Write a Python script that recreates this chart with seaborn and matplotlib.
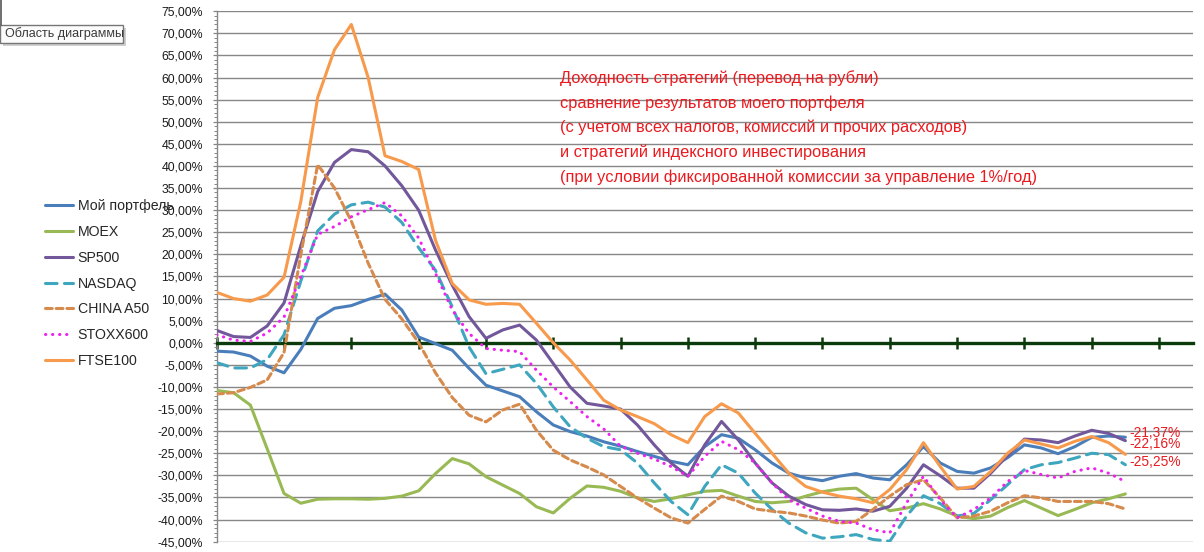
import matplotlib
matplotlib.use('Agg')
import matplotlib.pyplot as plt
from matplotlib.lines import Line2D
from matplotlib.patches import Rectangle
from matplotlib.ticker import FuncFormatter, MultipleLocator
import seaborn as sns

sns.set_style('white')
plt.rcParams['font.family'] = ['Liberation Sans', 'DejaVu Sans']

# readings taken every quarter of a tick interval (4 readings per tick)
periods = list(range(55))

my_portfolio = [-1.9, -2.1, -3.0, -5.3, -6.8, -1.5, 5.5, 7.8, 8.4, 9.8, 11.0,
                7.4, 1.3, -0.2, -1.7, -5.8, -9.6, -10.9, -12.2, -15.6, -18.6,
                -20.1, -21.1, -22.4, -23.4, -24.6, -25.7, -26.8, -27.6, -23.5,
                -20.8, -21.6, -24.2, -27.2, -29.5, -30.6, -31.2, -30.2, -29.6,
                -30.6, -31.0, -27.6, -23.5, -27.2, -29.1, -29.5, -28.3, -26.0,
                -23.1, -23.8, -25.1, -23.5, -21.4, -21.1, -21.37]
moex = [-10.8, -11.3, -14.1, -24.0, -34.1, -36.3, -35.4, -35.3, -35.3, -35.4,
        -35.2, -34.7, -33.5, -29.6, -26.2, -27.4, -30.3, -32.2, -34.1, -37.1,
        -38.5, -35.2, -32.4, -32.7, -33.6, -35.1, -35.9, -35.3, -34.4, -33.6,
        -33.4, -34.7, -35.9, -36.2, -35.9, -34.7, -33.7, -33.1, -32.9, -35.5,
        -38.0, -37.4, -36.4, -37.6, -39.2, -39.8, -39.2, -37.3, -35.7, -37.4,
        -39.1, -37.7, -36.2, -35.3, -34.2]
sp500 = [2.8, 1.4, 1.2, 3.8, 9.0, 22.0, 34.2, 40.8, 43.7, 43.2, 40.0, 35.5,
         30.0, 21.0, 13.0, 5.9, 1.0, 2.9, 4.0, 0.6, -4.7, -10.0, -13.7, -14.3,
         -15.0, -18.6, -23.1, -27.2, -30.2, -23.1, -17.8, -22.0, -27.2, -31.7,
         -34.7, -36.6, -37.8, -37.9, -37.6, -38.1, -37.0, -32.9, -27.6, -30.1,
         -32.9, -32.9, -29.5, -25.5, -21.8, -22.0, -22.6, -21.1, -19.8, -20.5,
         -22.16]
nasdaq = [-4.5, -5.7, -5.7, -3.8, 1.8, 14.0, 25.3, 29.1, 31.2, 31.8, 30.7,
          27.2, 21.5, 16.4, 8.1, -1.0, -7.0, -6.0, -5.0, -9.2, -14.5, -19.0,
          -21.6, -23.5, -24.2, -27.2, -31.7, -35.9, -38.9, -32.5, -27.6, -29.5,
          -34.0, -37.7, -40.8, -43.0, -44.2, -43.9, -43.4, -44.5, -44.9, -39.2,
          -34.6, -36.4, -39.2, -38.6, -35.5, -32.1, -28.7, -27.6, -27.1, -26.1,
          -25.0, -25.3, -27.6]
china_a50 = [-11.6, -11.3, -10.1, -8.4, -2.2, 20.0, 40.3, 35.0, 27.5, 18.0,
             9.8, 5.4, 0.0, -6.8, -12.4, -16.4, -17.9, -15.2, -13.9, -19.8,
             -24.3, -26.5, -28.1, -29.9, -32.5, -35.1, -37.4, -39.6, -40.8,
             -37.7, -34.7, -35.9, -37.6, -38.1, -38.5, -39.2, -40.1, -40.8,
             -40.4, -37.7, -34.7, -32.1, -31.0, -35.1, -39.6, -39.2, -38.1,
             -36.2, -34.6, -35.1, -35.9, -35.9, -35.9, -36.4, -37.6]
stoxx600 = [1.8, 0.6, 0.3, 2.2, 5.8, 15.0, 24.5, 26.3, 28.5, 30.1, 31.7, 28.7,
            23.7, 15.7, 7.4, 2.1, -1.3, -1.7, -2.0, -6.2, -10.0, -13.3, -16.7,
            -19.5, -23.4, -25.0, -26.3, -28.0, -30.2, -25.7, -22.3, -24.2,
            -27.2, -31.7, -35.5, -37.4, -39.2, -40.4, -40.8, -42.3, -43.0,
            -36.2, -30.2, -35.5, -39.6, -37.7, -35.1, -31.4, -28.9, -29.8,
            -30.6, -29.1, -28.3, -29.5, -31.4]
ftse100 = [11.4, 10.0, 9.4, 10.8, 14.8, 32.0, 55.5, 66.3, 72.0, 60.0, 42.3,
           41.0, 39.2, 23.2, 13.4, 9.7, 8.7, 8.9, 8.7, 4.4, 0.0, -3.9, -8.4,
           -13.0, -15.2, -16.7, -18.3, -20.8, -22.6, -16.7, -13.8, -15.9,
           -20.5, -25.0, -29.5, -32.5, -33.8, -34.7, -35.3, -36.2, -33.2,
           -28.7, -22.6, -28.0, -33.1, -32.5, -29.1, -25.0, -22.0, -22.9,
           -23.8, -22.3, -21.2, -22.6, -25.25]

series_names = ['Мой портфель', 'MOEX', 'SP500', 'NASDAQ', 'CHINA A50',
                'STOXX600', 'FTSE100']
series_values = [my_portfolio, moex, sp500, nasdaq, china_a50, stoxx600,
                 ftse100]

title_text = ('Доходность стратегий (перевод на рубли)\n'
              'сравнение результатов моего портфеля\n'
              '(с учетом всех налогов, комиссий и прочих расходов)\n'
              'и стратегий индексного инвестирования\n'
              '(при условии фиксированной комиссии за управление 1%/год)')

line_styles = {
    'Мой портфель': ('#4a7ebb', '-'),
    'MOEX': ('#98b954', '-'),
    'SP500': ('#72589b', '-'),
    'NASDAQ': ('#3ea6be', (0, (3.8, 2.4))),
    'CHINA A50': ('#d68a4c', (0, (2.2, 1.3))),
    'STOXX600': ('#ee22ee', (0, (0.1, 2.2))),
    'FTSE100': ('#f79a4c', '-'),
}
# pixel offsets of the end-of-line value labels
end_label_offsets = {'Мой портфель': 4.5, 'SP500': -3.7, 'FTSE100': -7.4}

red = '#ea1a1f'
grid_gray = '#878787'
axis_green = '#0b3a0b'


def pct_label(v, pos=None):
    return '{:.2f}%'.format(v).replace('.', ',')


fig = plt.figure(figsize=(12.04, 5.52), dpi=100)
ax = fig.add_axes([0.18, 0.0187, 0.8106, 0.961])

for name, values in zip(series_names, series_values):
    color, ls = line_styles[name]
    sns.lineplot(x=periods, y=values, ax=ax, color=color, linestyle=ls,
                 linewidth=2.2, label=name, legend=False,
                 dash_capstyle='round', solid_capstyle='round',
                 solid_joinstyle='round', zorder=2)

for name, values in zip(series_names, series_values):
    if name in end_label_offsets:
        ax.annotate(pct_label(values[-1]), xy=(periods[-1], values[-1]),
                    xytext=(4, end_label_offsets[name]),
                    textcoords='offset pixels', ha='left', va='center',
                    color=red, fontsize=9.9)

ax.set_xlim(0, 58)
ax.set_ylim(-45, 75)
ax.set_xlabel('')
ax.set_ylabel('')
ax.set_axisbelow(True)

ax.yaxis.set_major_locator(MultipleLocator(5))
ax.yaxis.set_minor_locator(MultipleLocator(1))
ax.yaxis.set_major_formatter(FuncFormatter(pct_label))
ax.yaxis.grid(True, which='major', color=grid_gray, linewidth=1.0)
ax.xaxis.grid(False)
ax.tick_params(axis='y', which='major', left=True, length=3, width=0.9,
               color=grid_gray, pad=6.8, labelsize=8.8, labelcolor='#1a1a1a')
ax.tick_params(axis='y', which='minor', left=True, length=2, width=0.7,
               color=grid_gray)

ax.set_xticks(list(range(0, 57, 4)))
ax.tick_params(axis='x', which='major', bottom=True, direction='inout',
               length=8, width=1.8, color=axis_green, labelbottom=False)

for side in ['top', 'right']:
    ax.spines[side].set_visible(False)
ax.spines['left'].set_color(grid_gray)
ax.spines['left'].set_linewidth(1.0)
ax.spines['bottom'].set_position(('data', 0))
ax.spines['bottom'].set_color(axis_green)
ax.spines['bottom'].set_linewidth(2.4)
for side in ['left', 'bottom']:
    ax.spines[side].set_zorder(1.5)

handles, labels = ax.get_legend_handles_labels()
fig.legend(handles, labels, loc='upper left', bbox_to_anchor=(0.0374, 0.639),
           frameon=False, fontsize=10.2, handlelength=2.0, handletextpad=0.3,
           labelspacing=0.83, borderpad=0, borderaxespad=0)

fig.text(0.465, 0.873, title_text, color=red, fontsize=11.8, ha='left',
         va='top', linespacing=1.74)

# "chart area" tooltip in the top left corner
fig.add_artist(Line2D([0.0012, 0.0012], [1.0, 0.9547], color='#555555',
                      linewidth=1.2, transform=fig.transFigure))
fig.add_artist(Rectangle((0.0025, 0.9167), 0.1022, 0.0326,
                         transform=fig.transFigure, facecolor='#bdbdbd',
                         edgecolor='none', alpha=0.7))
fig.add_artist(Rectangle((0.0, 0.9221), 0.1022, 0.0326,
                         transform=fig.transFigure, facecolor='#fcfcfc',
                         edgecolor='#767676', linewidth=1.0))
fig.text(0.0042, 0.9384, 'Область диаграммы', fontsize=9, color='#3a3a3a',
         ha='left', va='center')

plt.savefig('out.png', dpi=100)
plt.close('all')
